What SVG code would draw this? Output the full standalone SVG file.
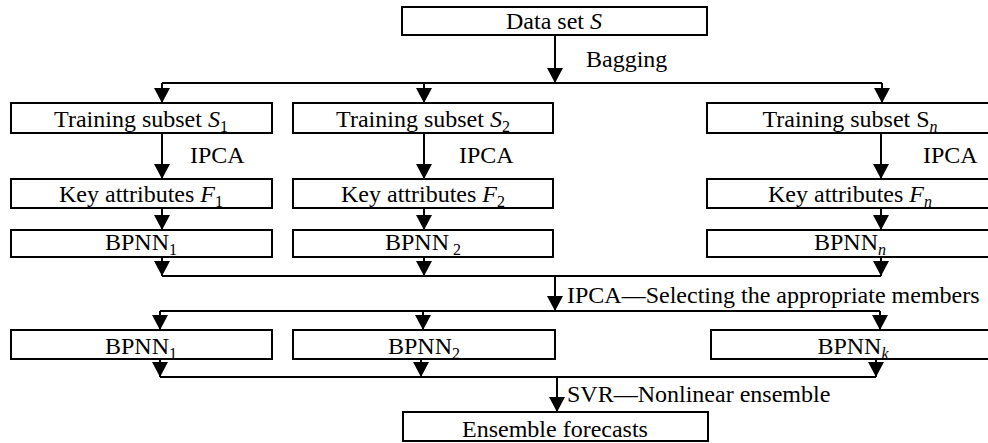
<svg xmlns="http://www.w3.org/2000/svg" width="988" height="443" viewBox="0 0 988 443">
<defs>
<marker id="ah" markerUnits="userSpaceOnUse" markerWidth="16" markerHeight="16" viewBox="0 0 15 16" refX="15" refY="8" orient="auto">
<path d="M0,0 L15,8 L0,16 z" fill="#000"/>
</marker>
</defs>
<style>
.b{fill:#fff;stroke:#000;stroke-width:2}
text{font-family:"Liberation Serif","Times New Roman",serif;font-size:24px;fill:#000}
.c{text-anchor:middle}
.i{font-style:italic}
.s{font-size:16px}
.ln{fill:none;stroke:#000;stroke-width:2}
.ar{fill:none;stroke:#000;stroke-width:2;marker-end:url(#ah)}
</style>
<rect width="988" height="443" fill="#fff"/>
<g id="connectors">
<path class="ar" d="M555,35 V83"/>
<path class="ln" d="M162,83 H882"/>
<path class="ar" d="M162,83 V103"/>
<path class="ar" d="M424,83 V103"/>
<path class="ar" d="M882,83 V103"/>
<path class="ar" d="M162,133 V179"/>
<path class="ar" d="M424,133 V179"/>
<path class="ar" d="M881,133 V179"/>
<path class="ar" d="M162,208 V230"/>
<path class="ar" d="M424,208 V230"/>
<path class="ar" d="M881,208 V230"/>
<path class="ar" d="M162,257 V276"/>
<path class="ar" d="M424,257 V276"/>
<path class="ar" d="M881,257 V276"/>
<path class="ln" d="M162,276 H881"/>
<path class="ar" d="M555,276 V311"/>
<path class="ln" d="M160,311 H880"/>
<path class="ar" d="M160,311 V330"/>
<path class="ar" d="M423,311 V330"/>
<path class="ar" d="M880,311 V330"/>
<path class="ar" d="M160,359 V377"/>
<path class="ar" d="M421,359 V377"/>
<path class="ar" d="M876,359 V377"/>
<path class="ln" d="M160,377 H876"/>
<path class="ar" d="M557,377 V412"/>
<text x="586" y="67">Bagging</text>
<text x="190" y="163">IPCA</text>
<text x="459" y="163">IPCA</text>
<text x="923" y="163">IPCA</text>
<text x="567" y="303">IPCA—Selecting the appropriate members</text>
<text x="567" y="402">SVR—Nonlinear ensemble</text>
</g>
<g id="dataset">
<rect class="b" x="402" y="7" width="305" height="28"/>
<text class="c" x="554" y="29">Data set <tspan class="i">S</tspan></text>
</g>
<g id="subset1">
<rect class="b" x="11" y="103" width="261" height="30"/>
<text class="c" x="141" y="127">Training subset <tspan class="i">S</tspan><tspan class="s" dy="5">1</tspan></text>
</g>
<g id="subset2">
<rect class="b" x="293" y="103" width="260" height="30"/>
<text class="c" x="423" y="127">Training subset <tspan class="i">S</tspan><tspan class="s" dy="5">2</tspan></text>
</g>
<g id="subsetn">
<rect class="b" x="707" y="103" width="290" height="30"/>
<text class="c" x="850" y="127">Training subset S<tspan class="s i" dy="5">n</tspan></text>
</g>
<g id="key1">
<rect class="b" x="11" y="179" width="261" height="29"/>
<text class="c" x="141" y="202">Key attributes <tspan class="i">F</tspan><tspan class="s" dy="5">1</tspan></text>
</g>
<g id="key2">
<rect class="b" x="293" y="179" width="260" height="29"/>
<text class="c" x="423" y="202">Key attributes <tspan class="i">F</tspan><tspan class="s" dy="5">2</tspan></text>
</g>
<g id="keyn">
<rect class="b" x="707" y="179" width="290" height="29"/>
<text class="c" x="850" y="202">Key attributes <tspan class="i">F</tspan><tspan class="s i" dy="5">n</tspan></text>
</g>
<g id="bpnn1">
<rect class="b" x="11" y="230" width="261" height="27"/>
<text class="c" x="141" y="250">BPNN<tspan class="s" dy="5">1</tspan></text>
</g>
<g id="bpnn2">
<rect class="b" x="293" y="230" width="260" height="27"/>
<text class="c" x="423" y="250">BPNN<tspan class="s" dx="4" dy="5">2</tspan></text>
</g>
<g id="bpnnn">
<rect class="b" x="707" y="230" width="290" height="27"/>
<text class="c" x="850" y="250">BPNN<tspan class="s i" dy="5">n</tspan></text>
</g>
<g id="sel1">
<rect class="b" x="11" y="330" width="261" height="29"/>
<text class="c" x="141" y="354">BPNN<tspan class="s" dy="5">1</tspan></text>
</g>
<g id="sel2">
<rect class="b" x="293" y="330" width="262" height="29"/>
<text class="c" x="424" y="354">BPNN<tspan class="s" dy="5">2</tspan></text>
</g>
<g id="selk">
<rect class="b" x="711" y="330" width="290" height="29"/>
<text class="c" x="853" y="354">BPNN<tspan class="s i" dy="5">k</tspan></text>
</g>
<g id="ensemble">
<rect class="b" x="403" y="412" width="305" height="29"/>
<text class="c" x="555" y="437">Ensemble forecasts</text>
</g>
</svg>
